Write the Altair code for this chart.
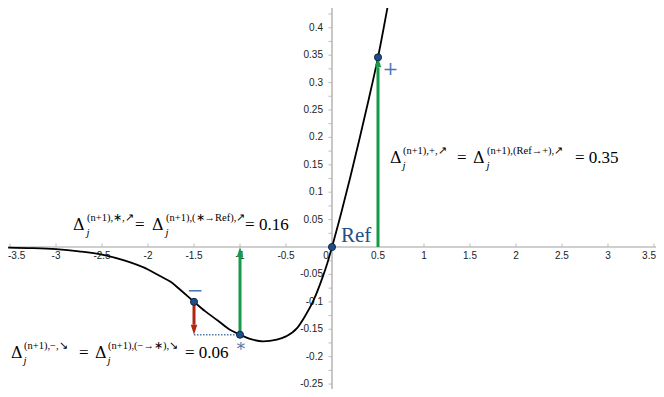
import altair as alt
import pandas as pd

# ---- data ----
curve_x = [-3.52, -3.25, -3.0, -2.75, -2.5, -2.25, -2.0, -1.87, -1.75, -1.65, -1.5, -1.38,
           -1.25, -1.1, -1.0, -0.9, -0.75, -0.6, -0.5, -0.38, -0.3, -0.2, -0.1, -0.05,
           0.0, 0.1, 0.2, 0.3, 0.4, 0.5, 0.6, 0.64]
curve_y = [-0.001, -0.002, -0.004, -0.008, -0.014, -0.025, -0.041, -0.053, -0.064, -0.078, -0.100, -0.117,
           -0.133, -0.152, -0.160, -0.167, -0.172, -0.169, -0.163, -0.148, -0.128, -0.097, -0.054, -0.029,
           0.0, 0.062, 0.128, 0.198, 0.270, 0.346, 0.434, 0.470]

pt_x = [-1.5, -1.0, 0.0, 0.5]
pt_y = [-0.100, -0.160, 0.0, 0.346]

arrow_x = [-1.0, 0.5, -1.5]
arrow_from = [-0.160, 0.0, -0.100]
arrow_to = [0.0, 0.346, -0.160]
arrow_col = ["green", "green", "red"]

dotted_x = [-1.5, -1.0]
dotted_y = [-0.160, -0.160]

sym_text = ["\u2212", "\u2217", "+"]
sym_x = [-1.489, -0.989, 0.636]
sym_y = [-0.080, -0.181, 0.325]
sym_size = [20, 17, 19]

x_tick_vals = [-3, -2.5, -2, -1.5, -1, -0.5, 0.5, 1, 1.5, 2, 2.5, 3]
x_tick_text = ["-3", "-2.5", "-2", "-1.5", "-1", "-0.5", "0.5", "1", "1.5", "2", "2.5", "3"]
x_edge_vals = [-3.5, 3.5]
x_edge_text = ["-3.5", "3.5"]
y_tick_vals = [-0.25, -0.2, -0.15, -0.1, -0.05, 0.05, 0.1, 0.15, 0.2, 0.25, 0.3, 0.35, 0.4]
y_tick_text = ["-0.25", "-0.2", "-0.15", "-0.1", "-0.05", "0.05", "0.1", "0.15", "0.2", "0.25", "0.3", "0.35", "0.4"]
y_minor = [i * 0.025 for i in range(-10, 18)]

label_x = [-2.815, -3.489, 0.630]
label_y = [0.031, -0.203, 0.153]
label_parts = [
    [("Δ", 0, 0, "delta"), ("j", 13.5, 6, "sub"), ("(n+1),∗,↗", 14, -9, "sup"), ("=", 62, 0, "big"),
     ("Δ", 79, 0, "delta"), ("j", 92.5, 6, "sub"), ("(n+1),(∗→Ref),↗", 93, -9, "sup"), ("= 0.16", 172, 0, "big")],
    [("Δ", 0, 0, "delta"), ("j", 12.5, 6, "sub"), ("(n+1),−,↘", 13, -9, "sup"), ("=", 68, 0, "big"),
     ("Δ", 84, 0, "delta"), ("j", 96.5, 6, "sub"), ("(n+1),(−→∗),↘", 97, -9, "sup"), ("= 0.06", 174, 0, "big")],
    [("Δ", 0, 0, "delta"), ("j", 12.5, 6, "sub"), ("(n+1),+,↗", 13, -9, "sup"), ("=", 67, 0, "big"),
     ("Δ", 83, 0, "delta"), ("j", 96.5, 6, "sub"), ("(n+1),(Ref→+),↗", 97, -9, "sup"), ("= 0.35", 185, 0, "big")],
]

# ---- geometry ----
W, H = 648, 381
XD = [-3.522, 3.522]
YD = [-0.259, 0.436]
PXX = W / (XD[1] - XD[0])
PXY = H / (YD[1] - YD[0])
HEAD = 10.0  # arrow head length in px
AXIS_COL = "#a0a0a0"
LBL_COL = "#222222"

xs = alt.Scale(domain=XD, nice=False, zero=False)
ys = alt.Scale(domain=YD, nice=False, zero=False)


def X(field):
    return alt.X(field, scale=xs, axis=None)


def Y(field):
    return alt.Y(field, scale=ys, axis=None)


curve = pd.DataFrame({"x": curve_x, "y": curve_y})
pts = pd.DataFrame({"x": pt_x, "y": pt_y})
arr = pd.DataFrame({"x": arrow_x, "y0": arrow_from, "y1": arrow_to, "c": arrow_col})
arr["dir"] = [1 if b > a else -1 for a, b in zip(arrow_from, arrow_to)]
arr["yend"] = arr["y1"] - arr["dir"] * HEAD / PXY
dotted = pd.DataFrame({"x": dotted_x, "y": dotted_y})
syms = pd.DataFrame({"x": sym_x, "y": sym_y, "t": sym_text, "s": sym_size})
xl = pd.DataFrame({"x": x_tick_vals, "y": 0.0, "t": x_tick_text})
xe = pd.DataFrame({"x": x_edge_vals, "y": 0.0, "t": x_edge_text})
yl = pd.DataFrame({"x": 0.0, "y": y_tick_vals, "t": y_tick_text})
xt = pd.DataFrame({"x": x_edge_vals[:1] + x_tick_vals + x_edge_vals[1:]})
ym = pd.DataFrame({"y": y_minor})

rows = []
for ax, ay, parts in zip(label_x, label_y, label_parts):
    for t, dx, dy, kind in parts:
        rows.append({"x": ax + dx / PXX, "y": ay - dy / PXY, "t": t, "k": kind})
eq = pd.DataFrame(rows)

colscale = alt.Scale(domain=["green", "red"], range=["#17994a", "#b0260e"])

# axes drawn by hand (crossing at the origin)
x_axis = alt.Chart(pd.DataFrame({"y": [0.0]})).mark_rule(color=AXIS_COL, strokeWidth=1.2).encode(
    y=Y("y:Q"), x=alt.value(0), x2=alt.value(W))
y_axis = alt.Chart(pd.DataFrame({"x": [0.0]})).mark_rule(color=AXIS_COL, strokeWidth=1.2).encode(
    x=X("x:Q"), y=alt.value(0), y2=alt.value(H))

xtick = alt.Chart(xt).mark_tick(orient="vertical", size=3, thickness=1, color=AXIS_COL, yOffset=-2).encode(
    x=X("x:Q"), y=alt.datum(0.0, scale=ys, axis=None))
ytick = alt.Chart(ym).mark_tick(orient="horizontal", size=3, thickness=1, color=AXIS_COL, xOffset=-2).encode(
    y=Y("y:Q"), x=alt.datum(0.0, scale=xs, axis=None))

x_labels = alt.Chart(xl).mark_text(font="Liberation Sans", fontSize=10, color=LBL_COL,
                                   align="center", baseline="top", dy=4).encode(
    x=X("x:Q"), y=Y("y:Q"), text="t:N")
x_left = alt.Chart(xe.iloc[:1]).mark_text(font="Liberation Sans", fontSize=10, color=LBL_COL,
                                          align="left", baseline="top", dy=4, dx=-2).encode(
    x=X("x:Q"), y=Y("y:Q"), text="t:N")
x_right = alt.Chart(xe.iloc[1:]).mark_text(font="Liberation Sans", fontSize=10, color=LBL_COL,
                                           align="right", baseline="top", dy=4, dx=2).encode(
    x=X("x:Q"), y=Y("y:Q"), text="t:N")
zero_lbl = alt.Chart(pd.DataFrame({"x": [0.0], "y": [0.0], "t": ["0"]})).mark_text(
    font="Liberation Sans", fontSize=10, color=LBL_COL, align="center", baseline="top", dx=-6, dy=4
).encode(x=X("x:Q"), y=Y("y:Q"), text="t:N")
y_labels = alt.Chart(yl).mark_text(font="Liberation Sans", fontSize=10, color=LBL_COL,
                                   align="right", baseline="middle", dx=-9).encode(
    x=X("x:Q"), y=Y("y:Q"), text="t:N")

line = alt.Chart(curve).mark_line(color="black", strokeWidth=1.8, interpolate="monotone", clip=True).encode(
    x=X("x:Q"), y=Y("y:Q"))

dots = alt.Chart(dotted).mark_line(color="#4f79b0", strokeWidth=1.5, strokeDash=[1.5, 1.5]).encode(
    x=X("x:Q"), y=Y("y:Q"))

shafts = alt.Chart(arr).mark_rule(strokeWidth=3).encode(
    x=X("x:Q"), y=Y("y0:Q"), y2="yend:Q",
    color=alt.Color("c:N", scale=colscale, legend=None))

heads_up = alt.Chart(arr).transform_filter("datum.dir > 0").mark_point(
    shape="M0,0L-0.65,2L0.65,2Z", filled=True, opacity=1, size=100).encode(
    x=X("x:Q"), y=Y("y1:Q"), color=alt.Color("c:N", scale=colscale, legend=None))
heads_dn = alt.Chart(arr).transform_filter("datum.dir < 0").mark_point(
    shape="M0,0L-0.65,-2L0.65,-2Z", filled=True, opacity=1, size=100).encode(
    x=X("x:Q"), y=Y("y1:Q"), color=alt.Color("c:N", scale=colscale, legend=None))

points = alt.Chart(pts).mark_circle(size=50, color="#1f4e89", opacity=1, stroke="#0c2746", strokeWidth=1).encode(
    x=X("x:Q"), y=Y("y:Q"))

symbols = alt.Chart(syms).mark_text(font="DejaVu Serif", color="#4a78b0",
                                    align="center", baseline="middle").encode(
    x=X("x:Q"), y=Y("y:Q"), text="t:N", size=alt.Size("s:Q", scale=None, legend=None))

ref = alt.Chart(pd.DataFrame({"x": [0.098], "y": [0.009], "t": ["Ref"]})).mark_text(
    font="Liberation Serif", fontSize=21, color="#234f86", align="left", baseline="alphabetic").encode(
    x=X("x:Q"), y=Y("y:Q"), text="t:N")


def eq_layer(kind, size, style, font="Liberation Serif"):
    return alt.Chart(eq).transform_filter(f"datum.k == '{kind}'").mark_text(
        font=font, fontSize=size, fontStyle=style, color="black",
        align="left", baseline="alphabetic").encode(
        x=X("x:Q"), y=Y("y:Q"), text="t:N")


chart = alt.layer(
    x_axis, y_axis, xtick, ytick, x_labels, x_left, x_right, zero_lbl, y_labels,
    line, dots, shafts, heads_up, heads_dn, points, symbols, ref,
    eq_layer("delta", 16, "normal", "DejaVu Serif"), eq_layer("big", 17, "normal"),
    eq_layer("sup", 10.5, "normal"), eq_layer("sub", 11, "italic"),
).properties(width=W, height=H, padding=0, autosize="none", background="white").configure_view(stroke=None)

chart.save("out.html", embed_options={"renderer": "svg", "actions": False})
